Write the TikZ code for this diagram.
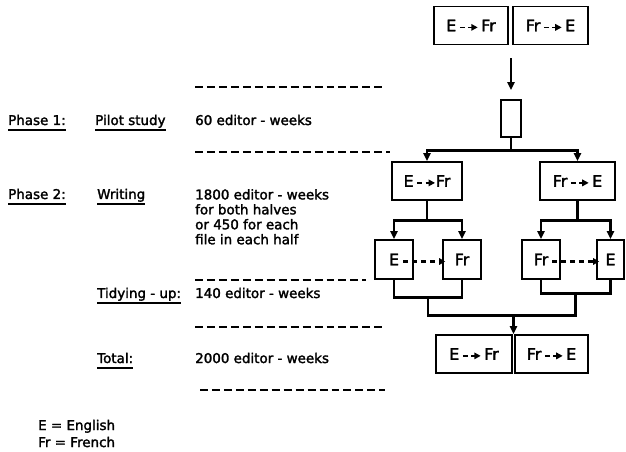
\documentclass[tikz,border=0pt]{standalone}
\usepackage{fontspec}
\setmainfont{DejaVu Sans}[FakeBold=2,AutoFakeBold=2]
\usetikzlibrary{arrows.meta,calc}

% short dash-and-arrow sign used inside the language boxes
\newcommand{\langarr}{\tikz[baseline=-0.45ex]{%
  \draw[line width=1.6pt] (0pt,0pt) -- (5pt,0pt);
  \draw[line width=1.6pt,-{Triangle[length=6.5pt,width=6.5pt]}] (8.5pt,0pt) -- (18pt,0pt);}}

\tikzset{
  every node/.style={font=\fontsize{13.5}{15}\selectfont\bfseries},
  langbox/.style={draw,line width=1.8pt,minimum height=38pt,inner sep=0pt,
    font=\fontsize{16}{18}\selectfont\bfseries},
  conn/.style={line width=2.8pt},
  arr/.style={conn,-{Triangle[length=8pt,width=7pt]}},
  dasharr/.style={line width=2.2pt,dash pattern=on 5pt off 4pt,-{Triangle[length=6pt,width=6.5pt]}},
  sep/.style={line width=1.8pt,dash pattern=on 8pt off 4pt},
  lbl/.style={anchor=base west,inner sep=0pt},
  uline/.style={line width=1.3pt}
}

\begin{document}
\begin{tikzpicture}[x=1bp,y=-1bp]
\useasboundingbox (0,0) rectangle (626,452);

% ---------------- flow chart ----------------
\node[langbox,minimum width=74pt] (top1) at (471,25.5) {E\,\langarr\,Fr};
\node[langbox,minimum width=75pt] (top2) at (550.5,25.5) {Fr\,\langarr\,E};
\node[draw,line width=1.8pt,minimum width=20pt,minimum height=37pt,inner sep=0pt] (pilot) at (511,118.5) {};
\coordinate (topfrom) at ($(top1.south east)!0.5!(top2.south west)+(0,13)$);
\draw[arr,shorten >=9pt] (pilot.north |- topfrom) -- (pilot.north);

\node[langbox,minimum width=70pt] (mEF) at (427,181) {E\,\langarr Fr};
\node[langbox,minimum width=75pt] (mFE) at (577.5,181) {Fr\,\langarr\,E};
\draw[conn] (pilot.south) -- ++(0,13) coordinate (split);
\draw[arr] (split) -| (mEF.north);
\draw[arr] (split) -| (mFE.north);

% left half
\node[langbox,minimum width=38pt,minimum height=39pt] (sE) at (394,259.5) {E};
\node[langbox,minimum width=38pt,minimum height=39pt] (sF) at (462,259.5) {Fr};
\draw[conn] (mEF.south) -- ++(0,20) coordinate (lsplit);
\draw[arr] (lsplit) -| (sE.north);
\draw[arr] (lsplit) -| (sF.north);
\draw[dasharr] ($(sE.center)+(9,2)$) -- ($(sF.west)+(3,2)$);

% right half
\node[langbox,minimum width=38pt,minimum height=39pt] (sFr) at (541,259.5) {Fr};
\node[langbox,minimum width=27pt,minimum height=39pt] (sE2) at (610.5,259.5) {E};
\draw[conn] (mFE.south) -- ++(0,20) coordinate (rsplit);
\draw[arr] (rsplit) -| (sFr.north);
\draw[arr] (rsplit) -| (sE2.north);
\draw[dasharr] ($(sFr.center)+(11,2)$) -- ($(sE2.west)+(3,2)$);

% joining brackets
\coordinate (ljoin) at ($(sE.south)!0.5!(sF.south)+(0,18)$);
\coordinate (rjoin) at ($(sFr.south)!0.5!(sE2.south)+(0,14)$);
\draw[conn] (sE.south) |- (ljoin) -| (sF.south);
\draw[conn] (sFr.south) |- (rjoin) -| (sE2.south);
\draw[conn] (ljoin) -- ++(0,18) -| (rjoin);

\node[langbox,minimum width=76pt] (bot1) at (474,354) {E\,\langarr\,Fr};
\node[langbox,minimum width=73pt] (bot2) at (551.5,354) {Fr\,\langarr\,E};
\coordinate (botin) at ($(bot1.north east)!0.5!(bot2.north west)$);
\draw[arr] ([yshift=20pt]botin) -- (botin);

% ---------------- schedule ----------------
\draw[sep] (195,87) -- (385,87);
\draw[sep] (195,152) -- (390,152);
\draw[sep] (195,280) -- (366,280);
\draw[sep] (195,327) -- (382,327);
\draw[sep] (200,390) -- (385,390);

\node[lbl] (ph1) at (8,125) {Phase 1:};
\node[lbl] (pilotlbl) at (95,125) {Pilot study};
\node[lbl] (pilotwk) at (195,125) {60 editor - weeks};

\node[lbl] (ph2) at (8,199) {Phase 2:};
\node[lbl] (writ) at (97,199) {Writing};
\node[anchor=north west,inner sep=0pt,align=left] (writwk) at (195,189)
  {1800 editor - weeks\\for both halves\\or 450 for each\\file in each half};

\node[lbl] (tidy) at (97,298) {Tidying - up:};
\node[lbl] (tidywk) at (195,298) {140 editor - weeks};

\node[lbl] (total) at (97,363) {Total:};
\node[lbl] (totalwk) at (195,363) {2000 editor - weeks};

\foreach \n in {ph1,pilotlbl,ph2,writ,tidy,total}
  \draw[uline] ([yshift=-5pt]\n.base west) -- ([yshift=-5pt]\n.base east);

% legend
\node[lbl] (legE) at (38,430) {E = English};
\node[lbl] (legF) at (38,447) {Fr = French};
\end{tikzpicture}
\end{document}
